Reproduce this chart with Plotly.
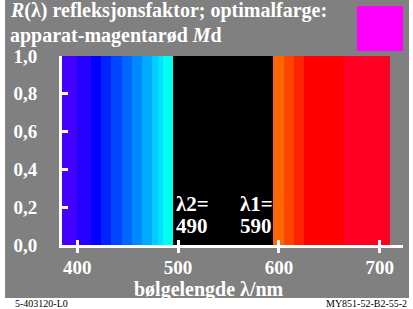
import plotly.graph_objects as go

# Band edges (nm) and colours of the optimal colour stripes
band_edges = [385, 400, 414, 424, 434, 444, 454, 464, 474, 480, 485, 495,
              594, 605, 615, 625, 665, 710]
band_colors = ["#4400ff", "#2600ff", "#0000ff", "#0024ff", "#0046ff", "#0068ff",
               "#008aff", "#00aaff", "#00ccff", "#00e0ff", "#00ffee", "#000000",
               "#ff6600", "#ff4400", "#ff2200", "#ff0000", "#ff0022"]
band_reflect = [1.0] * len(band_colors)

y_ticks = [0.0, 0.2, 0.4, 0.6, 0.8, 1.0]
y_ticktext = ["0,0", "0,2", "0,4", "0,6", "0,8", "1,0"]
x_ticks = [400, 500, 600, 700]

lambda2 = 490
lambda1 = 590

centers = [(a + b) / 2 for a, b in zip(band_edges[:-1], band_edges[1:])]
widths = [b - a for a, b in zip(band_edges[:-1], band_edges[1:])]

SERIF = "Liberation Serif, Times New Roman, serif"
GRAY = "#808080"
WHITE = "#ffffff"

fig = go.Figure()
fig.add_trace(go.Bar(x=centers, y=band_reflect, width=widths,
                     marker=dict(color=band_colors, line=dict(width=0)),
                     hoverinfo="skip", showlegend=False))
# invisible trace for overlay axis
fig.add_trace(go.Scatter(x=[400], y=[0], xaxis="x2", mode="markers",
                         marker=dict(opacity=0), showlegend=False, hoverinfo="skip"))

fig.update_layout(
    width=413, height=309,
    margin=dict(l=62, r=10, t=56, b=64),
    paper_bgcolor="#ffffff",
    plot_bgcolor=GRAY,
    bargap=0,
    xaxis=dict(range=[385, 723], showgrid=False, zeroline=False,
               showline=True, linecolor=WHITE, linewidth=3,
               ticks="outside", ticklen=5, tickwidth=3, tickcolor=WHITE,
               tickvals=x_ticks, ticklabelstandoff=-2,
               tickfont=dict(family=SERIF, size=19, color=WHITE, weight="bold")),
    xaxis2=dict(range=[385, 723], overlaying="x", anchor="y", side="bottom",
                showgrid=False, zeroline=False, showline=False,
                ticks="inside", ticklen=5, tickwidth=3, tickcolor=WHITE,
                tickvals=x_ticks, showticklabels=False),
    yaxis=dict(range=[0, 1.0], showgrid=False, zeroline=False,
               showline=True, linecolor=WHITE, linewidth=3,
               ticks="inside", ticklen=6, tickwidth=3, tickcolor=WHITE,
               tickvals=y_ticks, ticktext=y_ticktext, ticklabelstandoff=18,
               tickfont=dict(family=SERIF, size=19, color=WHITE, weight="bold")),
    shapes=[
        dict(type="rect", xref="paper", yref="paper", layer="below",
             x0=-0.167, x1=1.0176, y0=-0.280, y1=1.32,
             fillcolor=GRAY, line=dict(width=0)),
        dict(type="rect", xref="paper", yref="paper",
             x0=0.865, x1=1.0, y0=1.026, y1=1.265,
             fillcolor="#ff00ff", line=dict(width=0)),
    ],
)

tfont = dict(family=SERIF, size=20, color=WHITE, weight="bold")
lfont = dict(family=SERIF, size=21, color=WHITE, weight="bold")
ann = [
    dict(text="<i>R</i>(λ) refleksjonsfaktor; optimalfarge:", xref="paper", yref="paper",
         x=-0.158, y=1.240, xanchor="left", yanchor="middle", showarrow=False, font=tfont),
    dict(text="apparat-magentarød <i>M</i>d", xref="paper", yref="paper",
         x=-0.158, y=1.108, xanchor="left", yanchor="middle", showarrow=False, font=tfont),
    dict(text="bølgelengde λ/nm", xref="paper", yref="paper",
         x=0.43, y=-0.235, xanchor="center", yanchor="middle", showarrow=False, font=tfont),
    dict(text="λ2=", x=496, y=0.217, xanchor="left", yanchor="middle",
         showarrow=False, font=lfont),
    dict(text=str(lambda2), x=496, y=0.100, xanchor="left", yanchor="middle",
         showarrow=False, font=lfont),
    dict(text="λ1=", x=559, y=0.217, xanchor="left", yanchor="middle",
         showarrow=False, font=lfont),
    dict(text=str(lambda1), x=559, y=0.100, xanchor="left", yanchor="middle",
         showarrow=False, font=lfont),
    dict(text="5-403120-L0", xref="paper", yref="paper", x=-0.143, y=-0.268,
         xanchor="left", yanchor="top", showarrow=False,
         font=dict(family=SERIF, size=10, color="#000000")),
    dict(text="MY851-52-B2-55-2", xref="paper", yref="paper", x=1.018, y=-0.268,
         xanchor="right", yanchor="top", showarrow=False,
         font=dict(family=SERIF, size=10, color="#000000")),
]
fig.update_layout(annotations=ann)

fig.write_html("out.html", config={"displayModeBar": False},
               post_script="document.body.style.margin='0';document.body.style.overflow='hidden';")
